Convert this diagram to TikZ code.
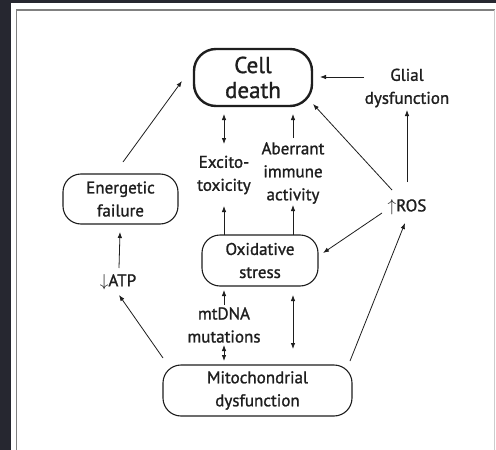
\documentclass[tikz,border=0pt]{standalone}
\usepackage{fontspec}
\setmainfont[FakeBold=1.2]{PT Sans}
\usetikzlibrary{arrows.meta}
\definecolor{framebg}{RGB}{38,39,48}
\definecolor{ink}{RGB}{30,30,30}
\begin{document}
\begin{tikzpicture}[x=1pt,y=-1pt,
  box/.style={draw=ink, line width=1.1pt, rounded corners=18pt, align=center, inner sep=0pt, text=ink, font=\fontsize{17}{23}\selectfont},
  lbl/.style={align=center, inner sep=0pt, text=ink, font=\fontsize{17}{23}\selectfont},
  arr/.style={draw=ink, line width=0.8pt, -{Latex[length=6pt,width=4.5pt]}},
  darr/.style={draw=ink, line width=0.8pt, {Latex[length=6pt,width=4.5pt]}-{Latex[length=6pt,width=4.5pt]}}]
\useasboundingbox (0,0) rectangle (496,450);
\fill[framebg] (0,0) rectangle (496,450);
\fill[white] (11,3) rectangle (496,450);
\draw[gray, line width=1.5pt] (16.5,451) -- (16.5,10) -- (494.5,10);
\draw[gray!40, line width=0.8pt] (494.5,10) -- (494.5,451);
% nodes
\node[box, line width=2.4pt, rounded corners=22pt, minimum width=118pt, minimum height=57pt, font=\fontsize{23}{25}\selectfont] (cd) at (253,77.5) {Cell\\death};
\node[lbl] (glial) at (407,88) {Glial\\dysfunction};
\node[box, minimum width=115pt, minimum height=50pt] (en) at (120.5,199) {Energetic\\failure};
\node[lbl] (ex) at (224,175) {Excito-\\toxicity};
\node[lbl] (ab) at (293,173) {Aberrant\\immune\\activity};
\node[lbl] (ros) at (407,207) {$\uparrow$ROS};
\node[box, minimum width=116pt, minimum height=51pt] (ox) at (260,260.5) {Oxidative\\stress};
\node[lbl] (atp) at (118,282) {$\downarrow$ATP};
\node[lbl] (mt) at (224,325) {mtDNA\\mutations};
\node[box, minimum width=189pt, minimum height=51pt] (mi) at (257.5,390.5) {Mitochondrial\\dysfunction};
% connectors
\draw[arr] ([shift={(-43,-11)}]glial.center) -- ([shift={(67,-0.5)}]cd.center);
\draw[arr] ([shift={(0,-25)}]ros.center) -- ([shift={(0,22)}]glial.center);
\draw[arr] ([shift={(-15,-17)}]ros.center) -- ([shift={(60,26.5)}]cd.center);
\draw[arr] ([shift={(2.5,-37)}]en.center) -- ([shift={(-71,3.5)}]cd.center);
\draw[darr] ([shift={(-29,36.5)}]cd.center) -- ([shift={(0,-31)}]ex.center);
\draw[arr] ([shift={(0,-35)}]ab.center) -- ([shift={(40,36.5)}]cd.center);
\draw[arr] ([shift={(-36,-25.5)}]ox.center) -- ([shift={(0,31)}]ex.center);
\draw[arr] ([shift={(33,-25.5)}]ox.center) -- ([shift={(0,32)}]ab.center);
\draw[arr] ([shift={(-25,6)}]ros.center) -- ([shift={(63,-7.5)}]ox.center);
\draw[arr] ([shift={(1,-14)}]atp.center) -- ([shift={(-0.5,33)}]en.center);
\draw[arr] ([shift={(-94.5,-32.5)}]mi.center) -- ([shift={(1,13)}]atp.center);
\draw[arr] ([shift={(0,-20)}]mt.center) -- ([shift={(-36,29.5)}]ox.center);
\draw[darr] ([shift={(0,20)}]mt.center) -- ([shift={(-33.5,-29.5)}]mi.center);
\draw[darr] ([shift={(33,34.5)}]ox.center) -- ([shift={(35.5,-41.5)}]mi.center);
\draw[arr] ([shift={(92.5,-29.5)}]mi.center) -- ([shift={(-2,16)}]ros.center);
\end{tikzpicture}
\end{document}
